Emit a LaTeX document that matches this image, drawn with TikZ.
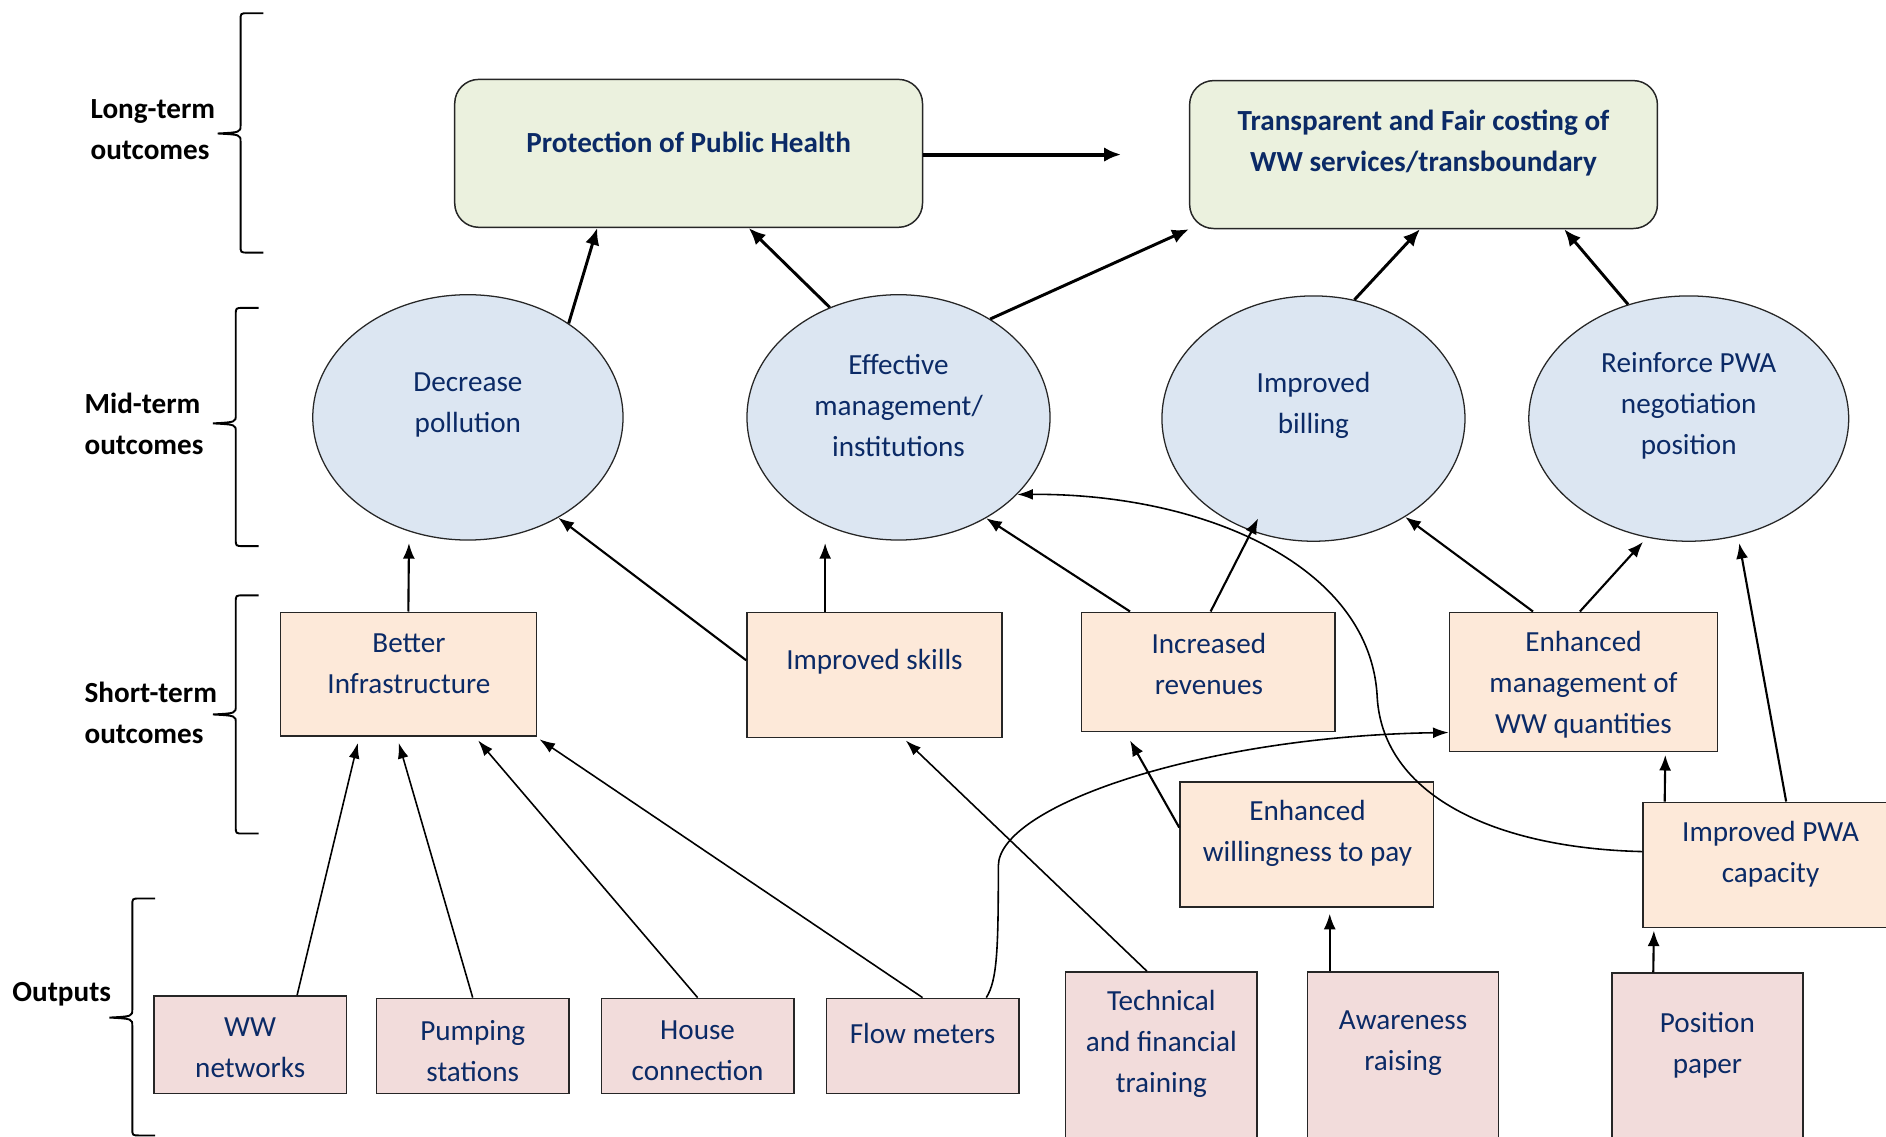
\documentclass[tikz,border=0pt]{standalone}
\usepackage{fontspec}
\setmainfont{Carlito}
\usepackage{xcolor}
\usepackage{tikz}
\usetikzlibrary{arrows.meta, calc, shapes.geometric}

\definecolor{Navy}{HTML}{0B2A66}
\definecolor{LongFill}{HTML}{EBF1DE}
\definecolor{MidFill}{HTML}{DCE6F2}
\definecolor{ShortFill}{HTML}{FDE9D9}
\definecolor{OutFill}{HTML}{F2DCDB}
\definecolor{Edge}{HTML}{262626}

\providecommand{\LevelBrace}[4]{%
  \edef\brx{#1}% x of the long stroke
  \edef\brtop{#2}%
  \edef\brbot{#3}%
  \edef\brmid{#4}% tip
  \draw[line width=0.9pt] (\brx+19,\brtop) -- (\brx+6,\brtop) .. controls (\brx,\brtop) .. (\brx,\brtop+6)
    -- (\brx,\brmid-7) .. controls (\brx,\brmid-1) .. (\brx-19,\brmid)
    .. controls (\brx,\brmid+1) .. (\brx,\brmid+7)
    -- (\brx,\brbot-6) .. controls (\brx,\brbot) .. (\brx+6,\brbot) -- (\brx+19,\brbot);
}

\begin{document}
\begin{tikzpicture}[x=0.02cm, y=-0.02cm,
  every node/.style={font=\fontsize{13.8}{19.4}\selectfont},
  txt/.style={text=Navy, align=center, inner sep=0pt, yshift=-0.04cm},
  bold/.style={font=\fontsize{13.8}{19.4}\selectfont\bfseries},
  tierlabel/.style={font=\fontsize{13.8}{19.4}\selectfont\bfseries, align=left, anchor=west, inner sep=0pt},
  longbox/.style={draw=Edge, fill=LongFill, rounded corners=0.4cm, line width=0.7pt, inner sep=0pt},
  midell/.style={ellipse, draw=Edge, fill=MidFill, line width=0.6pt, inner sep=0pt},
  shortbox/.style={draw=Edge, fill=ShortFill, line width=0.7pt, inner sep=0pt},
  outbox/.style={draw=Edge, fill=OutFill, line width=0.7pt, inner sep=0pt},
  upthick/.style={-{Latex[length=0.28cm,width=0.24cm]}, line width=1.4pt},
  upmid/.style={-{Latex[length=0.26cm,width=0.2cm]}, line width=1pt},
  upthin/.style={-{Latex[length=0.26cm,width=0.18cm]}, line width=0.75pt}]

	\useasboundingbox (0,0) rectangle (1568,945);
	\clip (0,0) rectangle (1568,945);

	% levels
	\LevelBrace{200}{11}{210}{111}
	\LevelBrace{196}{256}{454}{352}
	\LevelBrace{196}{495}{693}{594}
	\LevelBrace{110}{747}{944}{846}
	\node[tierlabel] (lt) at (75,108) {Long-term\\outcomes};
	\node[tierlabel] (mt) at (70,352) {Mid-term\\outcomes};
	\node[tierlabel] (st) at (70,593) {Short-term\\outcomes};
	\node[tierlabel] (op) at (10,827) {Outputs};

	% long-term outcomes
	\node[longbox, minimum width=7.78cm, minimum height=2.46cm] (p) at (572.5,127.5) {};
	\node[txt, bold] (p-t) at (572.5,116) {Protection of Public Health};
	\node[longbox, minimum width=7.78cm, minimum height=2.46cm] (t) at (1183.5,128.5) {};
	\node[txt, bold] (t-t) at (1183.5,117) {Transparent and Fair costing of\\WW services/transboundary};

	% mid-term outcomes
	\node[midell, minimum width=5.16cm, minimum height=4.08cm] (dp) at (389,347) {};
	\node[txt] (dp-t) at (389,335) {Decrease\\pollution};
	\node[midell, minimum width=5.04cm, minimum height=4.08cm] (em) at (747,347) {};
	\node[txt] (em-t) at (747,335) {Effective\\management/\\institutions};
	\node[midell, minimum width=5.04cm, minimum height=4.08cm] (ib) at (1092,348) {};
	\node[txt] (ib-t) at (1092,335) {Improved\\billing};
	\node[midell, minimum width=5.32cm, minimum height=4.08cm] (rp) at (1404,348) {};
	\node[txt] (rp-t) at (1404,335) {Reinforce PWA\\negotiation\\position};

	% short-term outcomes
	\node[shortbox, minimum width=4.26cm, minimum height=2.06cm] (bi) at (339.5,560.5) {};
	\node[txt] (bi-t) at (340,550) {Better\\Infrastructure};
	\node[shortbox, minimum width=4.24cm, minimum height=2.08cm] (is) at (727,561) {};
	\node[txt] (is-t) at (727,548) {Improved skills};
	\node[shortbox, minimum width=4.22cm, minimum height=1.98cm] (ir) at (1004.5,558.5) {};
	\node[txt] (ir-t) at (1005,550) {Increased\\revenues};
	\node[shortbox, minimum width=4.46cm, minimum height=2.32cm] (emq) at (1316.5,567) {};
	\node[txt] (emq-t) at (1316.5,567) {Enhanced\\management of\\WW quantities};
	\node[shortbox, minimum width=4.22cm, minimum height=2.08cm] (ew) at (1086.5,702) {};
	\node[txt] (ew-t) at (1087,691) {Enhanced\\willingness to pay};
	\node[shortbox, minimum width=4.24cm, minimum height=2.08cm] (ipc) at (1472,719) {};
	\node[txt] (ipc-t) at (1472,708) {Improved PWA\\capacity};

	% outputs
	\node[outbox, minimum width=3.2cm, minimum height=1.62cm] (ww) at (208,868.5) {};
	\node[txt] (ww-t) at (208,869) {WW\\networks};
	\node[outbox, minimum width=3.2cm, minimum height=1.58cm] (ps) at (393,869.5) {};
	\node[txt] (ps-t) at (393,871.5) {Pumping\\stations};
	\node[outbox, minimum width=3.2cm, minimum height=1.58cm] (hc) at (580,869.5) {};
	\node[txt] (hc-t) at (580,871.5) {House\\connection};
	\node[outbox, minimum width=3.2cm, minimum height=1.58cm] (fm) at (767,869.5) {};
	\node[txt] (fm-t) at (767,857) {Flow meters};
	\node[outbox, minimum width=3.18cm, minimum height=3cm] (tf) at (965.5,883) {};
	\node[txt] (tf-t) at (965.5,866) {Technical\\and financial\\training};
	\node[outbox, minimum width=3.18cm, minimum height=3cm] (ar) at (1166.5,883) {};
	\node[txt] (ar-t) at (1166.5,865) {Awareness\\raising};
	\node[outbox, minimum width=3.18cm, minimum height=3cm] (pp) at (1419.5,884) {};
	\node[txt] (pp-t) at (1419.5,867) {Position\\paper};

	% mid -> long
	\draw[upthick] (dp.43) -- ($(p.south)+(-76,0)$);
	\draw[upthick] (em.122) -- ($(p.south)+(50,0)$);
	\draw[upthick] (em.47) -- (t.south west);
	\draw[upthick] (ib.71) -- ($(t.south)+(-3,0)$);
	\draw[upthick] (rp.118) -- ($(t.south)+(117,0)$);
	\coordinate (p-out) at (932,128.5);
	\draw[upthick, line width=1.9pt] ($(p.east)+(0,1)$) -- (p-out);

	% short -> mid
	\draw[upmid] (bi.north) -- ($(dp.south)+(-49,2)$);
	\draw[upmid] ($(is.west)+(0,-12)$) -- (dp.312);
	\draw[upmid] ($(is.north)+(-41,0)$) -- ($(em.south)+(-61,2)$);
	\draw[upmid] ($(ir.north)+(-65,0)$) -- (em.311);
	\draw[upmid] ($(ir.north)+(2,0)$) -- ($(ib.center)+(-46,83)$);
	\draw[upmid] ($(emq.north)+(-42,0)$) -- (ib.313);
	\draw[upmid] ($(emq.north)+(-3,0)$) -- ($(rp.south)+(-38,0)$);
	\draw[upmid] ($(ipc.north)+(13,0)$) -- ($(rp.south)+(42,1)$);
	\draw[upmid] ($(ipc.north)+(-88,0)$) -- ($(emq.south)+(68,2)$);
	\draw[upmid] ($(ew.west)+(0,-14)$) -- ($(ir.south)+(-65,7)$);
	\draw[upmid] ($(ar.north)+(-61,0)$) -- ($(ew.south)+(19,5)$);
	\draw[upmid] ($(pp.north)+(-45,0)$) -- ($(ipc.south)+(-97,2)$);

	% curved links
	\draw[upthin] ($(ipc.west)+(0,-11)$) .. controls (1240,705) and (1150,660) .. (1145,580)
		.. controls (1140,470) and (1000,410) .. (em.327);
	\draw[upthin] ($(fm.north)+(53,0)$) .. controls (829,815) and (830,790) .. (830,720)
		.. controls (830,670) and (1000,612) .. ($(emq.west)+(0,42)$);

	% outputs -> short
	\draw[upthin] ($(tf.north)+(-12,0)$) -- ($(is.south)+(26,2)$);
	\draw[upthin] ($(ww.north)+(39,0)$) -- ($(bi.south)+(-42,5)$);
	\draw[upthin] (ps.north) -- ($(bi.south)+(-8,5)$);
	\draw[upthin] (hc.north) -- ($(bi.south)+(58,3)$);
	\draw[upthin] (fm.north) -- ($(bi.south)+(109,2)$);

\end{tikzpicture}
\end{document}
